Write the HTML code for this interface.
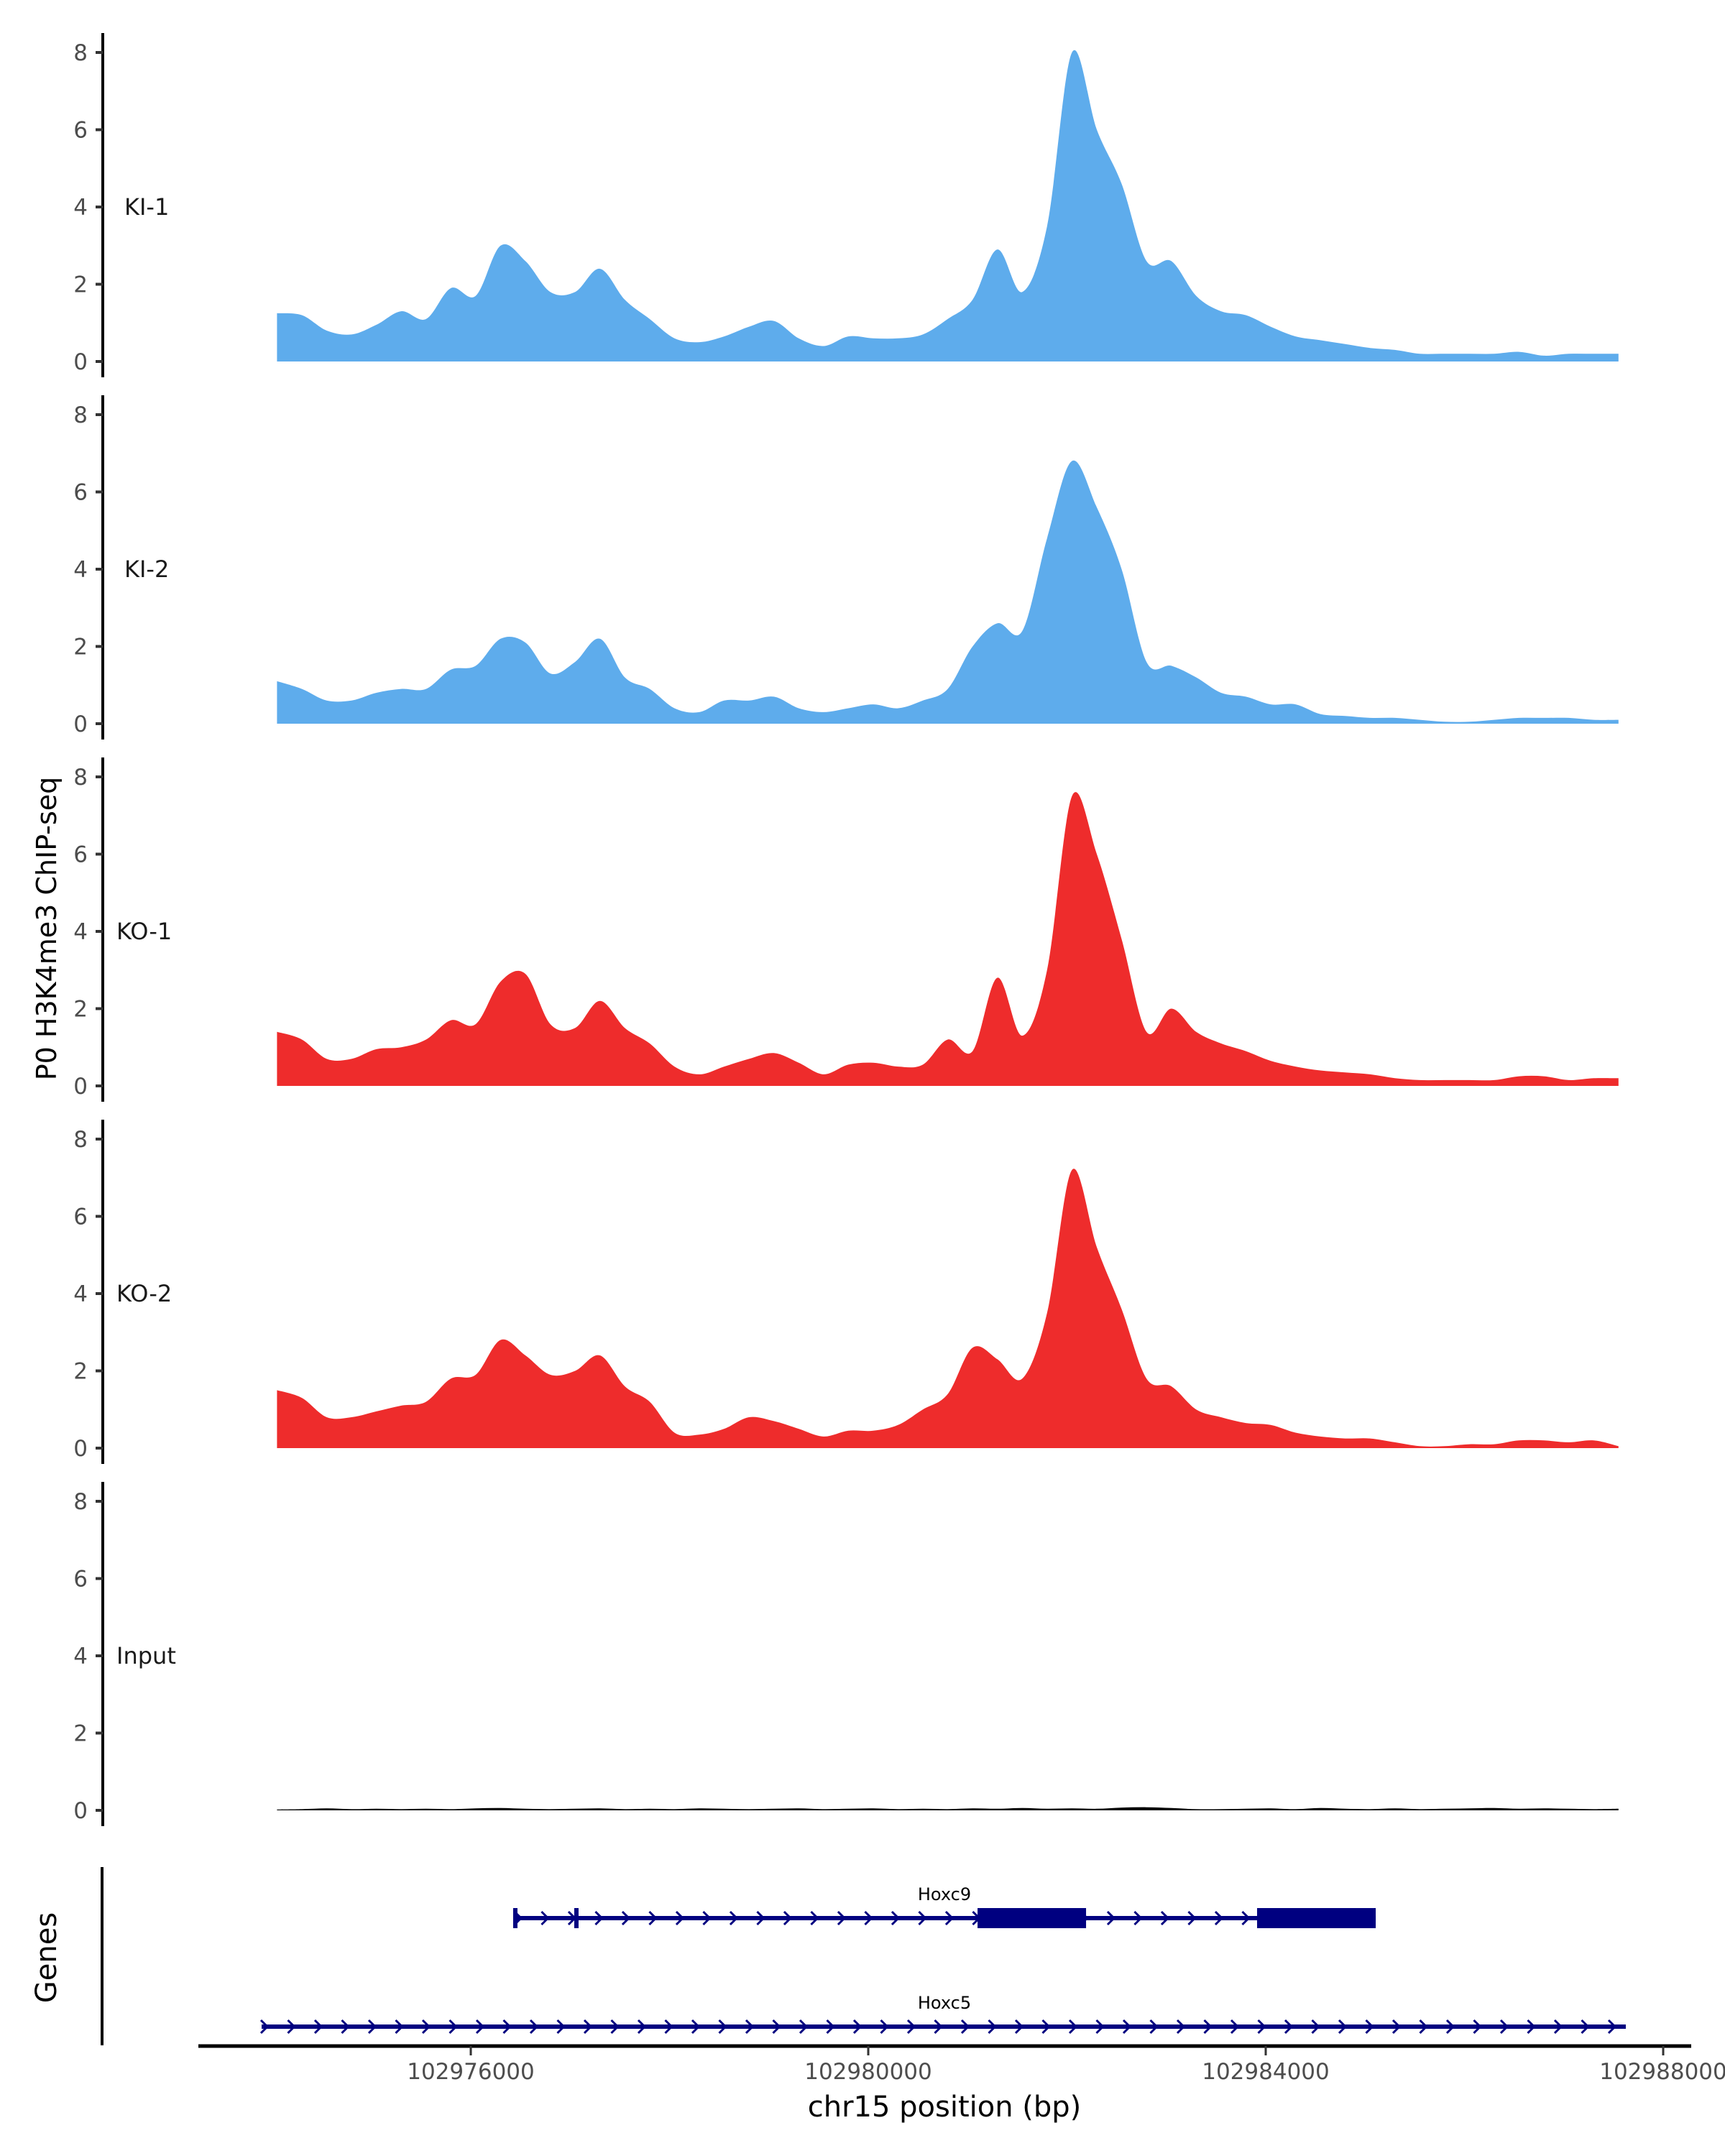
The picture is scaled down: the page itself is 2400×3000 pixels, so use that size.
<!DOCTYPE html>
<html><head><meta charset="utf-8"><style>
body{margin:0;background:#fff}
svg{display:block;font-family:"DejaVu Sans","Liberation Sans",sans-serif}
</style></head><body>
<svg id="chart" width="2400" height="3000" viewBox="0 0 2400 3000" xmlns="http://www.w3.org/2000/svg"></svg>
<script>
const trackNames = ["KI-1","KI-2","KO-1","KO-2","Input"];
const trackColors = ["#5EACEC","#5EACEC","#EE2C2C","#EE2C2C","#000000"];
const binStart = 102974050;
const binStep = 250;
const ki1 = [1.25,1.2,0.8,0.7,0.95,1.3,1.1,1.9,1.7,3.0,2.6,1.8,1.8,2.4,1.6,1.1,0.6,0.5,0.65,0.9,1.05,0.6,0.4,0.65,0.6,0.6,0.7,1.1,1.6,2.9,1.8,3.5,8.0,6.0,4.6,2.6,2.6,1.7,1.3,1.2,0.9,0.65,0.55,0.45,0.35,0.3,0.2,0.2,0.2,0.2,0.25,0.15,0.2,0.2,0.2];
const ki2 = [1.1,0.9,0.6,0.6,0.8,0.9,0.9,1.4,1.5,2.2,2.1,1.3,1.6,2.2,1.2,0.9,0.4,0.3,0.6,0.6,0.7,0.4,0.3,0.4,0.5,0.4,0.6,0.9,2.0,2.6,2.4,4.8,6.8,5.6,4.0,1.6,1.5,1.2,0.8,0.7,0.5,0.5,0.25,0.2,0.15,0.15,0.1,0.05,0.05,0.1,0.15,0.15,0.15,0.1,0.1];
const ko1 = [1.4,1.2,0.7,0.7,0.95,1.0,1.2,1.7,1.6,2.7,2.9,1.6,1.5,2.2,1.5,1.1,0.5,0.3,0.5,0.7,0.85,0.6,0.3,0.55,0.6,0.5,0.55,1.2,0.9,2.8,1.3,3.0,7.5,6.0,3.8,1.4,2.0,1.4,1.1,0.9,0.65,0.5,0.4,0.35,0.3,0.2,0.15,0.15,0.15,0.15,0.25,0.25,0.15,0.2,0.2];
const ko2 = [1.5,1.3,0.8,0.8,0.95,1.1,1.2,1.8,1.9,2.8,2.4,1.9,2.0,2.4,1.6,1.2,0.4,0.35,0.5,0.8,0.7,0.5,0.3,0.45,0.45,0.6,1.0,1.4,2.6,2.3,1.8,3.5,7.2,5.2,3.6,1.8,1.6,1.0,0.8,0.65,0.6,0.4,0.3,0.25,0.25,0.15,0.05,0.05,0.1,0.1,0.2,0.2,0.15,0.2,0.05];
const inputVals = [0.02,0.03,0.05,0.03,0.04,0.03,0.04,0.03,0.05,0.06,0.04,0.03,0.04,0.05,0.03,0.04,0.03,0.05,0.04,0.03,0.04,0.05,0.03,0.04,0.05,0.03,0.04,0.03,0.05,0.04,0.06,0.04,0.05,0.04,0.07,0.08,0.06,0.03,0.03,0.04,0.05,0.03,0.06,0.04,0.03,0.05,0.03,0.04,0.05,0.06,0.04,0.05,0.04,0.03,0.04];
const yTicks = [0,2,4,6,8];
const xTicks = [102976000,102980000,102984000,102988000];
const xTickLabels = ["102976000","102980000","102984000","102988000"];
const geneNames = ["Hoxc9","Hoxc5"];
const geneStarts = [102976448,102973895];
const geneEnds = [102985107,102987624];
const hoxc9Exons = [[102981100,102982192],[102983913,102985107]];
const hoxc9Marks = [102976448,102977063];

const NS="http://www.w3.org/2000/svg";
const svg=document.getElementById('chart');
function mk(tag,attrs,parent){const e=document.createElementNS(NS,tag);for(const k in attrs)e.setAttribute(k,attrs[k]);(parent||svg).appendChild(e);return e;}
const xScale = bp => 655 + (bp-102976000)*553/4000;
const zero0 = 503, panelGap = 504, unit = 53.75;
const allVals=[ki1,ki2,ko1,ko2,inputVals];

for(let t=0;t<5;t++){
  const z=zero0+panelGap*t;
  const yS=v=>z-v*unit;
  const g=mk('g',{});
  
  
  const ax=mk('line',{x1:143,x2:143,y1:yS(8)-27,y2:z+22,stroke:'#000','stroke-width':4},g);
  
  
  yTicks.forEach(v=>{
    const tk=mk('line',{x1:133,x2:143,y1:yS(v),y2:yS(v),stroke:'#333','stroke-width':4},g);
    
    
    const tl=mk('text',{x:122,y:yS(v)+11,'text-anchor':'end','font-size':31,fill:'#4d4d4d'},g);
    tl.textContent=v;
    
    
  });
  const lab=mk('text',{x:t<2?173:162,y:yS(4)+11,'font-size':32,fill:'#1a1a1a'},g);
  lab.textContent=trackNames[t];
  
  
  const vals=allVals[t];
  const pts=vals.map((v,i)=>[xScale(binStart+i*binStep),yS(v)]);
  let d='M'+pts[0][0].toFixed(1)+','+z+' L'+pts[0][0].toFixed(1)+','+pts[0][1].toFixed(1);
  for(let i=0;i<pts.length-1;i++){
    const p0=pts[Math.max(0,i-1)],p1=pts[i],p2=pts[i+1],p3=pts[Math.min(pts.length-1,i+2)];
    const c1x=p1[0]+(p2[0]-p0[0])/6,c1y=Math.min(z,p1[1]+(p2[1]-p0[1])/6);
    const c2x=p2[0]-(p3[0]-p1[0])/6,c2y=Math.min(z,p2[1]-(p3[1]-p1[1])/6);
    d+=` C${c1x.toFixed(1)},${c1y.toFixed(1)} ${c2x.toFixed(1)},${c2y.toFixed(1)} ${p2[0].toFixed(1)},${p2[1].toFixed(1)}`;
  }
  d+=' L'+pts[pts.length-1][0].toFixed(1)+','+z+' Z';
  const area=mk('path',{d:d,fill:trackColors[t]},g);
  
  
}

const yt=mk('text',{x:0,y:0,'font-size':38,fill:'#000','text-anchor':'middle',transform:'translate(78,1292) rotate(-90)'});
yt.textContent='P0 H3K4me3 ChIP-seq';



const ga=mk('line',{x1:142,x2:142,y1:2598,y2:2846,stroke:'#000','stroke-width':4});


const gt=mk('text',{x:0,y:0,'font-size':40,fill:'#000','text-anchor':'middle',transform:'translate(78,2724) rotate(-90)'});
gt.textContent='Genes';


const geneY=[2669,2820];
geneNames.forEach((n,i)=>{
  const g=mk('g',{});
  
  
  const x1=xScale(geneStarts[i]),x2=xScale(geneEnds[i]),y=geneY[i];
  mk('line',{x1:x1,x2:x2,y1:y,y2:y,stroke:'#000080','stroke-width':6},g);
  for(let x=x1+4;x<=x2;x+=37.5){
    mk('path',{d:`M${x-5},${y-9} L${x+4},${y} L${x-5},${y+9}`,fill:'none',stroke:'#000080','stroke-width':3},g);
  }
  const lt=mk('text',{x:1314,y:y-25,'text-anchor':'middle','font-size':24,fill:'#000'},g);
  lt.textContent=n;
  
  
  if(i===0){
    hoxc9Exons.forEach(e=>{
      const r=mk('rect',{x:xScale(e[0]),y:y-14,width:xScale(e[1])-xScale(e[0]),height:28,fill:'#000080'},g);
      
      
    });
    hoxc9Marks.forEach(m=>{mk('rect',{x:xScale(m)-3,y:y-14,width:6,height:28,fill:'#000080'},g);});
  }
});

const xa=mk('line',{x1:276,x2:2353,y1:2847,y2:2847,stroke:'#000','stroke-width':5});


xTicks.forEach((v,i)=>{
  const x=xScale(v);
  const tk=mk('line',{x1:x,x2:x,y1:2847,y2:2860,stroke:'#333','stroke-width':3});
  
  
  const tl=mk('text',{x:x,y:2893,'text-anchor':'middle','font-size':31,fill:'#4d4d4d'});
  tl.textContent=xTickLabels[i];
  
  
});
const xt=mk('text',{x:1314,y:2945,'text-anchor':'middle','font-size':40,fill:'#000'});
xt.textContent='chr15 position (bp)';


</script>
</body></html>
